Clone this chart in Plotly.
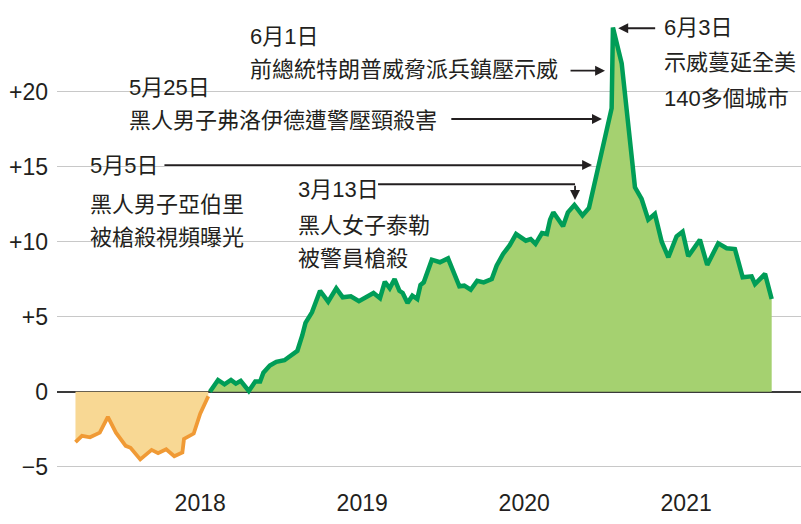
import plotly.graph_objects as go

# ---- data (decimal year, net support %) ----
neg_t = [2017.10, 2017.14, 2017.19, 2017.25, 2017.30, 2017.35, 2017.41, 2017.44, 2017.50,
         2017.57, 2017.61, 2017.66, 2017.71, 2017.76, 2017.77, 2017.83, 2017.87, 2017.92]
neg_v = [-3.36, -2.94, -3.04, -2.73, -1.68, -2.73, -3.61, -3.74, -4.51,
         -3.88, -4.10, -3.84, -4.30, -4.05, -3.15, -2.79, -1.47, -0.30]

pos_t = [2017.93, 2017.98, 2018.02, 2018.06, 2018.09, 2018.12, 2018.17, 2018.21, 2018.24,
         2018.26, 2018.30, 2018.34, 2018.39, 2018.47, 2018.50, 2018.52, 2018.56, 2018.61,
         2018.66, 2018.71, 2018.75, 2018.80, 2018.85, 2018.90, 2018.94, 2018.98, 2019.01,
         2019.04, 2019.07, 2019.10, 2019.12, 2019.15, 2019.18, 2019.21, 2019.23, 2019.25,
         2019.30, 2019.35, 2019.40, 2019.47, 2019.50, 2019.54, 2019.58, 2019.62, 2019.67,
         2019.70, 2019.74, 2019.78, 2019.82, 2019.88, 2019.91, 2019.94, 2019.98, 2020.01,
         2020.03, 2020.05, 2020.11, 2020.14, 2020.18, 2020.23, 2020.27, 2020.410, 2020.418,
         2020.472, 2020.554, 2020.595, 2020.636, 2020.677, 2020.719, 2020.76, 2020.811,
         2020.848, 2020.883, 2020.955, 2021.00, 2021.068, 2021.12, 2021.171, 2021.219,
         2021.274, 2021.295, 2021.357, 2021.398]
pos_v = [0.00, 0.78, 0.49, 0.78, 0.54, 0.72, 0.05, 0.68, 0.68,
         1.26, 1.74, 1.99, 2.10, 2.73, 3.75, 4.59, 5.29, 6.73,
         6.00, 6.89, 6.29, 6.36, 6.03, 6.36, 6.58, 6.23, 7.33,
         6.89, 7.51, 6.73, 6.58, 5.91, 6.40, 6.18, 7.11, 7.29,
         8.80, 8.63, 8.89, 7.03, 7.07, 6.80, 7.40, 7.29, 7.51,
         8.40, 9.18, 9.75, 10.51, 10.07, 10.18, 9.85, 10.58, 10.51,
         11.47, 11.96, 11.03, 11.96, 12.45, 11.75, 12.25, 18.90, 24.28,
         21.89, 13.63, 12.85, 11.47, 11.85, 10.00, 8.96, 10.36,
         10.67, 9.03, 10.13, 8.45, 9.89, 9.56, 9.51, 7.63,
         7.69, 7.18, 7.85, 6.18]

x_tick_pos = [2017.87, 2018.87, 2019.87, 2020.87]
x_tick_text = ["2018", "2019", "2020", "2021"]
y_tick_vals = [-5, 0, 5, 10, 15, 20]
y_tick_text = ["\u22125", "0", "+5", "+10", "+15", "+20"]

GREEN_LINE = "#009d57"
GREEN_FILL = "#a5d170"
ORANGE_LINE = "#f09a35"
ORANGE_FILL = "#f8d894"
TXT = "#231f20"
FONT = "Liberation Sans Narrow, Liberation Sans, Noto Sans CJK TC, sans-serif"

fig = go.Figure()
fig.add_trace(go.Scatter(x=neg_t, y=neg_v, mode="lines", fill="tozeroy",
                         fillcolor=ORANGE_FILL, line=dict(color=ORANGE_LINE, width=3.8),
                         hoverinfo="skip", showlegend=False))
fig.add_trace(go.Scatter(x=pos_t, y=pos_v, mode="lines", fill="tozeroy",
                         fillcolor=GREEN_FILL, line=dict(color=GREEN_LINE, width=4.5),
                         hoverinfo="skip", showlegend=False))

# ---- annotations: text lines (x, y, text) ----
text_lines = [
    (2020.729, 24.25, "6月3日"),
    (2020.729, 21.98, "示威蔓延全美"),
    (2020.729, 19.58, "140多個城市"),
    (2018.169, 23.65, "6月1日"),
    (2018.169, 21.45, "前總統特朗普威脅派兵鎮壓示威"),
    (2017.426, 20.25, "5月25日"),
    (2017.426, 18.05, "黑人男子弗洛伊德遭警壓頸殺害"),
    (2017.185, 15.05, "5月5日"),
    (2017.185, 12.51, "黑人男子亞伯里"),
    (2017.185, 10.25, "被槍殺視頻曝光"),
    (2018.466, 13.45, "3月13日"),
    (2018.466, 11.05, "黑人女子泰勒"),
    (2018.466, 8.91, "被警員槍殺"),
]
for x, y, t in text_lines:
    fig.add_annotation(x=x, y=y, xref="x", yref="y", text=t, showarrow=False,
                       xanchor="left", yanchor="middle", borderpad=0,
                       font=dict(family=FONT, size=22, color=TXT))

# arrows: (tail x, tail y, head x, head y)
arrows = [
    (2020.688, 24.23, 2020.451, 24.23),
    (2020.147, 21.40, 2020.369, 21.40),
    (2019.411, 18.18, 2020.350, 18.18),
    (2017.640, 15.11, 2020.289, 15.11),
    (2020.184, 13.83, 2020.184, 12.78),
]
for tx, ty, hx, hy in arrows:
    fig.add_annotation(x=hx, y=hy, ax=tx, ay=ty, xref="x", yref="y", axref="x", ayref="y",
                       text="", showarrow=True, arrowhead=2, arrowsize=1.1,
                       arrowwidth=1.8, arrowcolor=TXT)
fig.add_shape(type="line", x0=2018.968, x1=2020.184, y0=13.83, y1=13.83,
              xref="x", yref="y", line=dict(color=TXT, width=1.8))

fig.update_layout(
    width=801, height=524,
    margin=dict(l=57, r=0, t=5, b=54, autoexpand=False),
    paper_bgcolor="white", plot_bgcolor="white",
    xaxis=dict(range=[2016.986, 2021.579], showgrid=False, zeroline=False,
               tickvals=x_tick_pos, ticktext=x_tick_text, ticks="",
               ticklabelstandoff=17, automargin=False,
               tickfont=dict(family=FONT, size=23, color=TXT), fixedrange=True),
    yaxis=dict(range=[-5.22, 25.78], tickvals=y_tick_vals, ticktext=y_tick_text,
               showgrid=True, gridcolor="#c8c8c8", gridwidth=1,
               zeroline=True, zerolinecolor="#3a3a3a", zerolinewidth=2,
               ticks="", ticklabelstandoff=8, automargin=False,
               tickfont=dict(family=FONT, size=23, color=TXT), fixedrange=True),
)

fig.write_html("out.html", config={"displayModeBar": False},
               post_script="document.body.style.margin='0';document.body.style.overflow='hidden';")
